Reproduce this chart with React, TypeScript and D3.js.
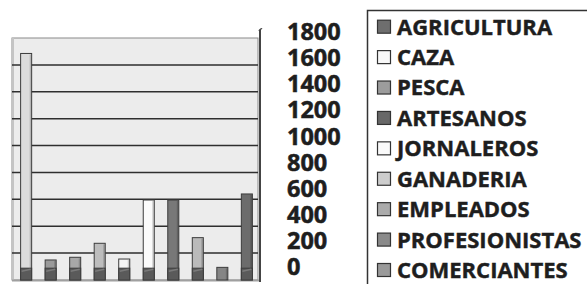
import React from "react";
import * as d3 from "d3";

// bar positions (no category labels in the picture)
const categories = ["1", "2", "3", "4", "5", "6", "7", "8", "9", "10"];
// total height of each column
const totals = [1685, 149, 169, 273, 156, 595, 595, 315, 94, 640];
// dark block at the foot of each column
const bases = [88, 88, 88, 88, 88, 88, 88, 88, 0, 88];
const barColors = ["#dcdcdc", "#9a9a9a", "#a8a8a8", "#bdbdbd", "#f6f6f6", "#fbfbfb", "#787878", "#bababa", "#858585", "#6c6c6c"];

const yTicks = [0, 200, 400, 600, 800, 1000, 1200, 1400, 1600, 1800];

const legendNames = ["AGRICULTURA", "CAZA", "PESCA", "ARTESANOS", "JORNALEROS", "GANADERIA", "EMPLEADOS", "PROFESIONISTAS", "COMERCIANTES"];
const legendColors = ["#6e6e6e", "#f8f8f8", "#9c9c9c", "#686868", "#fafafa", "#cdcdcd", "#ababab", "#8a8a8a", "#9a9a9a"];

export default function App() {
  const width = 587,
    height = 284;
  const plot = { left: 12, right: 258, top: 38, bottom: 280 };

  const x = d3.scaleBand().domain(categories).range([14, 259]).paddingInner(0.55).paddingOuter(0.27);
  const y = d3.scaleLinear().domain([0, 1800]).range([plot.bottom, plot.top]);
  // labels on the right are spaced a little tighter than the gridlines
  const yLabel = d3.scaleLinear().domain([0, 1800]).range([266.7, 31.7]);

  const legendY = d3.scalePoint().domain(legendNames).range([26.7, 270]);

  const font = "'Open Sans', 'DejaVu Sans', sans-serif";

  return (
    <svg width={width} height={height} style={{ position: "absolute", left: 0, top: 0, background: "#fff" }}>
      {/* back wall */}
      <rect x={plot.left} y={plot.top} width={plot.right - plot.left} height={plot.bottom - plot.top} fill="#ececec" stroke="#8a8a8a" strokeWidth={1} />
      <rect x={plot.left - 1} y={plot.top} width={3} height={plot.bottom - plot.top} fill="#c4c4c4" />
      {yTicks.slice(1, -1).map((t) => (
        <line key={t} x1={plot.left} x2={plot.right} y1={y(t)} y2={y(t)} stroke="#2e2e2e" strokeWidth={1.5} />
      ))}
      <line x1={plot.left} x2={plot.right + 2} y1={plot.bottom + 0.5} y2={plot.bottom + 0.5} stroke="#a0a0a0" strokeWidth={2} />

      {/* columns */}
      {categories.map((c, i) => {
        const bx = x(c)!;
        const bw = x.bandwidth();
        return (
          <g key={c}>
            <rect x={bx} y={y(totals[i])} width={bw} height={plot.bottom - y(totals[i])} fill={barColors[i]} stroke="#3c3c3c" strokeWidth={1} />
            <rect x={bx + bw - 2} y={y(totals[i]) + 1} width={1.5} height={plot.bottom - y(totals[i]) - 1} fill="#000" opacity={0.18} />
            {bases[i] > 0 && (
              <g>
                <rect x={bx} y={y(bases[i])} width={bw} height={plot.bottom - y(bases[i])} fill="#5a5a5a" stroke="#3c3c3c" strokeWidth={1} />
                <path d={`M${bx + 1},${y(bases[i]) + 3}L${bx + bw - 1},${y(bases[i]) + 1}`} stroke="#7a7a7a" strokeWidth={1.5} />
              </g>
            )}
          </g>
        );
      })}

      {/* right axis line */}
      <line x1={260} x2={260} y1={30} y2={282} stroke="#444" strokeWidth={2} />
      <path d="M259,31 q2,-3 3,-2" stroke="#444" strokeWidth={1.5} fill="none" />

      {/* value labels */}
      {yTicks.map((t) => (
        <text key={t} x={287} y={yLabel(t)} dy="0.36em" fontFamily={font} fontWeight={700} fontSize={23.5} fill="#1e1e1e" stroke="#1e1e1e" strokeWidth={0.5}>
          {t}
        </text>
      ))}

      {/* legend */}
      <rect x={367.5} y={10.5} width={260} height={300} fill="#fff" stroke="#333" strokeWidth={1.5} />
      {legendNames.map((n, i) => {
        const cy = legendY(n)!;
        return (
          <g key={n}>
            <rect x={377.5} y={cy - 6.5} width={13} height={13} fill={legendColors[i]} stroke="#333" strokeWidth={1.2} />
            <text x={397} y={cy} dy="0.36em" fontFamily={font} fontWeight={700} fontSize={22} fill="#1e1e1e" stroke="#1e1e1e" strokeWidth={0.45}>
              {n}
            </text>
          </g>
        );
      })}
    </svg>
  );
}
